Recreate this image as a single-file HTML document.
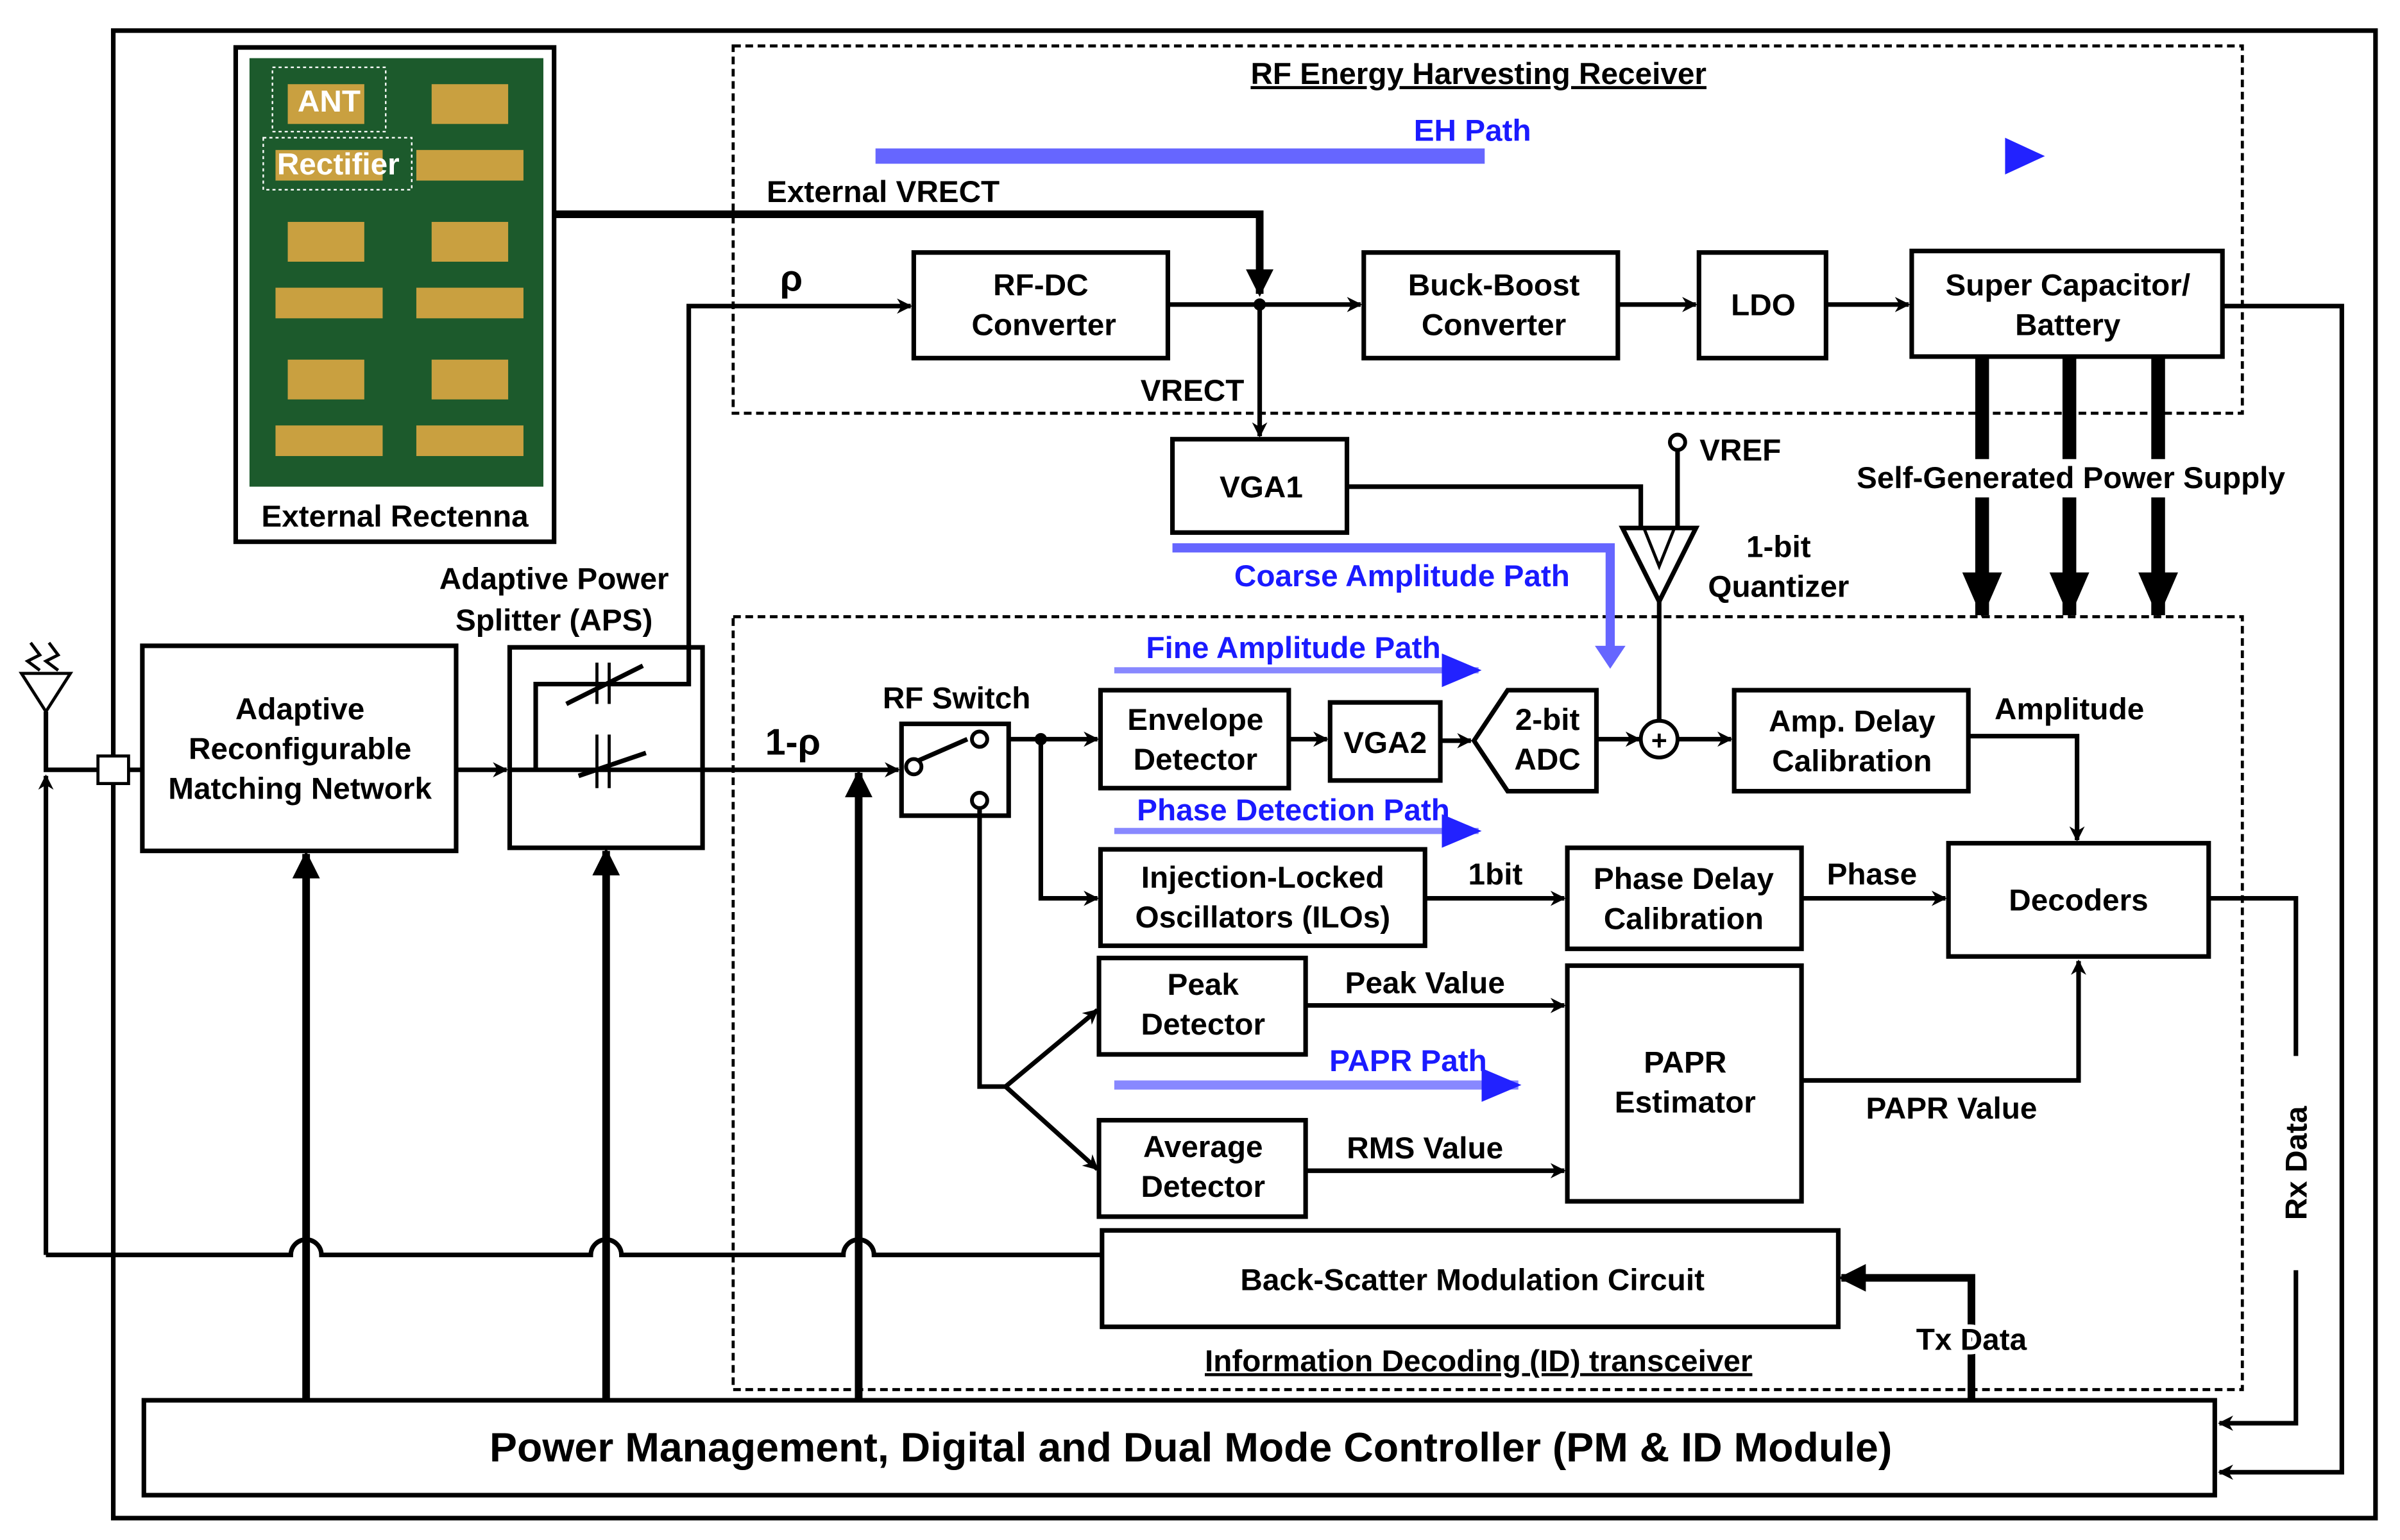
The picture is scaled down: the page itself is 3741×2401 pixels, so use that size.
<!DOCTYPE html>
<html><head><style>html,body{margin:0;padding:0;background:#fff}svg{display:block}</style></head>
<body>
<svg width="3741" height="2401" viewBox="0 0 1568 1006.3" preserveAspectRatio="none" xmlns="http://www.w3.org/2000/svg" font-family="Liberation Sans, Arial, sans-serif" font-weight="bold">
<defs>
<marker id="a" markerWidth="10" markerHeight="10" refX="9" refY="5" orient="auto" markerUnits="userSpaceOnUse"><path d="M0,0 L10,5 L0,10 L3,5 Z" fill="#000"/></marker>
<marker id="b" markerWidth="18" markerHeight="26" refX="16" refY="9" orient="auto" markerUnits="userSpaceOnUse"><path d="M0,0 L18,9 L0,18 Z" fill="#000"/></marker>
<marker id="u" markerWidth="30" markerHeight="26" refX="28" refY="13" orient="auto" markerUnits="userSpaceOnUse"><path d="M0,0 L30,13 L0,26 Z" fill="#000"/></marker>
<marker id="bl" markerWidth="26" markerHeight="22" refX="24" refY="11" orient="auto" markerUnits="userSpaceOnUse"><path d="M0,0 L26,11 L0,22 Z" fill="#2222ff"/></marker>
</defs>
<rect x="0" y="0" width="1568" height="1007" fill="#fff"/>
<rect x="74" y="20" width="1478" height="972" fill="none" stroke="#000" stroke-width="3"/>
<!-- rectenna -->
<rect x="154" y="31" width="208" height="323" fill="#fff" stroke="#000" stroke-width="3"/>
<rect x="163" y="38" width="192" height="280" fill="#1c5a2c"/>
<g fill="#c9a040">
<rect x="188" y="55" width="50" height="26"/><rect x="282" y="55" width="50" height="26"/>
<rect x="188" y="145" width="50" height="26"/><rect x="282" y="145" width="50" height="26"/>
<rect x="188" y="235" width="50" height="26"/><rect x="282" y="235" width="50" height="26"/>
<rect x="180" y="98" width="70" height="20"/><rect x="272" y="98" width="70" height="20"/>
<rect x="180" y="188" width="70" height="20"/><rect x="272" y="188" width="70" height="20"/>
<rect x="180" y="278" width="70" height="20"/><rect x="272" y="278" width="70" height="20"/>
</g>
<rect x="178" y="44" width="74" height="42" fill="none" stroke="#fff" stroke-dasharray="2,2"/>
<rect x="172" y="90" width="97" height="34" fill="none" stroke="#fff" stroke-dasharray="2,2"/>
<g font-size="20" fill="#fff"><text x="215" y="73" text-anchor="middle">ANT</text><text x="221" y="114" text-anchor="middle">Rectifier</text></g>
<g font-size="20" fill="#000">
<text x="258" y="344" text-anchor="middle">External Rectenna</text>
</g>
<!-- dashed boxes -->
<rect x="479" y="30" width="986" height="240" fill="none" stroke="#000" stroke-width="2" stroke-dasharray="5,3"/>
<rect x="479" y="403" width="986" height="505" fill="none" stroke="#000" stroke-width="2" stroke-dasharray="5,3"/>
<g font-size="20" fill="#000" text-anchor="middle">
<text x="966" y="55" text-decoration="underline">RF Energy Harvesting Receiver</text>
<text x="966" y="896" text-decoration="underline">Information Decoding (ID) transceiver</text>
</g>
<!-- blue paths -->
<rect x="572" y="97" width="398" height="10" fill="#6666ff"/>
<path d="M1310,90 L1336,102 L1310,114 Z" fill="#2222ff"/>
<g fill="#1a1aff" font-size="20" text-anchor="middle">
<text x="962" y="92">EH Path</text>
<text x="916" y="383">Coarse Amplitude Path</text>
<text x="845" y="430">Fine Amplitude Path</text>
<text x="845" y="536">Phase Detection Path</text>
<text x="920" y="700">PAPR Path</text>
</g>
<path d="M766,358 L1052,358 L1052,424" fill="none" stroke="#6666ff" stroke-width="6"/>
<path d="M1042,422 L1062,422 L1052,437 Z" fill="#6666ff"/>
<line x1="728" y1="438" x2="966" y2="438" stroke="#8888ff" stroke-width="4" marker-end="url(#bl)"/>
<line x1="728" y1="543" x2="966" y2="543" stroke="#8888ff" stroke-width="4" marker-end="url(#bl)"/>
<line x1="728" y1="709" x2="992" y2="709" stroke="#8888ff" stroke-width="6" marker-end="url(#bl)"/>
<!-- boxes -->
<g fill="#fff" stroke="#000" stroke-width="3">
<rect x="597" y="165" width="166" height="69"/>
<rect x="891" y="165" width="166" height="69"/>
<rect x="1110" y="165" width="83" height="69"/>
<rect x="1249" y="164" width="203" height="69"/>
<rect x="766" y="287" width="114" height="61"/>
<rect x="93" y="422" width="205" height="134"/>
<rect x="333" y="423" width="126" height="131"/>
<rect x="589" y="473" width="70" height="60"/>
<rect x="719" y="451" width="123" height="64"/>
<rect x="869" y="459" width="72" height="51"/>
<path d="M963,484 L985,451 L1043,451 L1043,517 L985,517 Z"/>
<rect x="1133" y="451" width="153" height="66"/>
<rect x="1273" y="551" width="170" height="74"/>
<rect x="719" y="555" width="212" height="63"/>
<rect x="1024" y="554" width="153" height="66"/>
<rect x="718" y="626" width="135" height="63"/>
<rect x="1024" y="631" width="153" height="154"/>
<rect x="718" y="732" width="135" height="63"/>
<rect x="720" y="804" width="481" height="63"/>
<rect x="94" y="915" width="1353" height="62"/>
</g>
<g font-size="20" fill="#000" text-anchor="middle">
<text x="680" y="193">RF-DC</text><text x="682" y="219">Converter</text>
<text x="976" y="193">Buck-Boost</text><text x="976" y="219">Converter</text>
<text x="1152" y="206">LDO</text>
<text x="1351" y="193">Super Capacitor/</text><text x="1351" y="219">Battery</text>
<text x="824" y="325">VGA1</text>
<text x="196" y="470">Adaptive</text><text x="196" y="496">Reconfigurable</text><text x="196" y="522">Matching Network</text>
<text x="781" y="477">Envelope</text><text x="781" y="503">Detector</text>
<text x="905" y="492">VGA2</text>
<text x="1011" y="477">2-bit</text><text x="1011" y="503">ADC</text>
<text x="1210" y="478">Amp. Delay</text><text x="1210" y="504">Calibration</text>
<text x="1358" y="595">Decoders</text>
<text x="825" y="580">Injection-Locked</text><text x="825" y="606">Oscillators (ILOs)</text>
<text x="1100" y="581">Phase Delay</text><text x="1100" y="607">Calibration</text>
<text x="786" y="650">Peak</text><text x="786" y="676">Detector</text>
<text x="1101" y="701">PAPR</text><text x="1101" y="727">Estimator</text>
<text x="786" y="756">Average</text><text x="786" y="782">Detector</text>
<text x="962" y="843">Back-Scatter Modulation Circuit</text>
<text x="778" y="955" font-size="27">Power Management, Digital and Dual Mode Controller (PM &amp; ID Module)</text>
<text x="577" y="132">External VRECT</text>
<text x="517" y="190" font-size="24">ρ</text>
<text x="779" y="262">VRECT</text>
<text x="1137" y="301">VREF</text>
<text x="1162" y="364">1-bit</text><text x="1162" y="390">Quantizer</text>
<text x="362" y="385">Adaptive Power</text><text x="362" y="412">Splitter (APS)</text>
<text x="518" y="493" font-size="24">1-ρ</text>
<text x="625" y="463">RF Switch</text>
<text x="1352" y="470">Amplitude</text>
<text x="977" y="578">1bit</text>
<text x="1223" y="578">Phase</text>
<text x="931" y="649">Peak Value</text>
<text x="1275" y="731">PAPR Value</text>
<text x="931" y="757">RMS Value</text>
</g>
<text x="0" y="0" font-size="20" text-anchor="middle" transform="translate(1507,760) rotate(-90)">Rx Data</text>
<!-- lines -->
<g fill="none" stroke="#000" stroke-width="3">
<path d="M362,140 L823,140 L823,192" stroke-width="5" marker-end="url(#b)"/>
<path d="M450,423 L450,200 L595,200" marker-end="url(#a)"/>
<path d="M763,199 L889,199" marker-end="url(#a)"/>
<path d="M823,199 L823,285" marker-end="url(#a)"/>
<path d="M1057,199 L1108,199" marker-end="url(#a)"/>
<path d="M1193,199 L1247,199" marker-end="url(#a)"/>
<path d="M1452,200 L1530,200 L1530,962 L1450,962" marker-end="url(#a)"/>
<path d="M880,318 L1072,318 L1072,347"/>
<path d="M1096,294 L1096,347"/>
<path d="M1060,345 L1108,345 L1084,393 Z" fill="#fff"/>
<path d="M1084,393 L1084,470"/>
<path d="M1074,345 L1084,370 L1094,345" stroke-width="2"/>
<path d="M1096,483 L1131,483" marker-end="url(#a)"/>
<path d="M1286,481 L1357,481 L1357,549" marker-end="url(#a)"/>
<path d="M842,483 L867,483" marker-end="url(#a)"/>
<path d="M941,484 L961,484" marker-end="url(#a)"/>
<path d="M1043,483 L1071,483" marker-end="url(#a)"/>
<path d="M931,587 L1022,587" marker-end="url(#a)"/>
<path d="M1177,587 L1271,587" marker-end="url(#a)"/>
<path d="M853,657 L1022,657" marker-end="url(#a)"/>
<path d="M853,765 L1022,765" marker-end="url(#a)"/>
<path d="M1177,706 L1358,706 L1358,628" marker-end="url(#a)"/>
<path d="M1443,587 L1500,587 L1500,690"/>
<path d="M1500,830 L1500,930 L1450,930" marker-end="url(#a)"/>
<path d="M659,483 L717,483" marker-end="url(#a)"/>
<path d="M680,483 L680,587 L717,587" marker-end="url(#a)"/>
<path d="M640,523 L640,710 L657,710"/>
<path d="M657,710 L717,660" marker-end="url(#a)"/>
<path d="M657,710 L717,764" marker-end="url(#a)"/>
<path d="M298,503 L331,503" marker-end="url(#a)"/>
<path d="M333,503 L587,503" marker-end="url(#a)"/>
<path d="M350,503 L350,447 L450,447 L450,423"/>
<path d="M30,465 L30,503 L64,503"/><path d="M84,503 L93,503"/>
<path d="M30,820 L30,507" marker-end="url(#a)"/>
<path d="M30,820 L190,820 A10,10 0 0 1 210,820 L386,820 A10,10 0 0 1 406,820 L551,820 A10,10 0 0 1 571,820 L720,820"/>
<path d="M1288,915 L1288,835 L1203,835" stroke-width="5" marker-end="url(#b)"/>
<path d="M200,915 L200,558" stroke-width="5" marker-end="url(#b)"/>
<path d="M396,915 L396,556" stroke-width="5" marker-end="url(#b)"/>
<path d="M561,915 L561,505" stroke-width="5" marker-end="url(#b)"/>
<path d="M1295,233 L1295,300 M1295,325 L1295,402" stroke-width="9" marker-end="url(#u)"/>
<path d="M1352,233 L1352,300 M1352,325 L1352,402" stroke-width="9" marker-end="url(#u)"/>
<path d="M1410,233 L1410,300 M1410,325 L1410,402" stroke-width="9" marker-end="url(#u)"/>
<!-- switch -->
<path d="M600,497 L632,483"/>
<path d="M370,460 L420,435 M378,507 L422,492" stroke-width="3"/>
<path d="M390,433 L390,460 M398,433 L398,460 M390,480 L390,515 M398,480 L398,515" stroke-width="2"/>
<!-- antenna -->
<path d="M14,440 L46,440 L30,465 Z" stroke-width="2"/>
<path d="M20,420 L26,428 L18,432 L26,438 M32,420 L38,428 L30,432 L38,438" stroke-width="2"/>
</g>
<text x="1353" y="319" font-size="20" text-anchor="middle" fill="#000" stroke="#fff" stroke-width="6" paint-order="stroke">Self-Generated Power Supply</text>
<text x="1288" y="882" font-size="20" text-anchor="middle" fill="#000" stroke="#fff" stroke-width="6" paint-order="stroke">Tx Data</text>
<circle cx="823" cy="199" r="4" fill="#000"/><circle cx="680" cy="483" r="4" fill="#000"/>
<circle cx="1096" cy="289" r="5" fill="#fff" stroke="#000" stroke-width="2.5"/>
<circle cx="1084" cy="483" r="12" fill="#fff" stroke="#000" stroke-width="2.5"/>
<text x="1084" y="490" font-size="18" text-anchor="middle">+</text>
<circle cx="597" cy="501" r="5" fill="#fff" stroke="#000" stroke-width="2.5"/>
<circle cx="640" cy="483" r="5" fill="#fff" stroke="#000" stroke-width="2.5"/>
<circle cx="640" cy="523" r="5" fill="#fff" stroke="#000" stroke-width="2.5"/>
<rect x="64" y="494" width="20" height="18" fill="#fff" stroke="#000" stroke-width="2"/>
</svg>
</body></html>
